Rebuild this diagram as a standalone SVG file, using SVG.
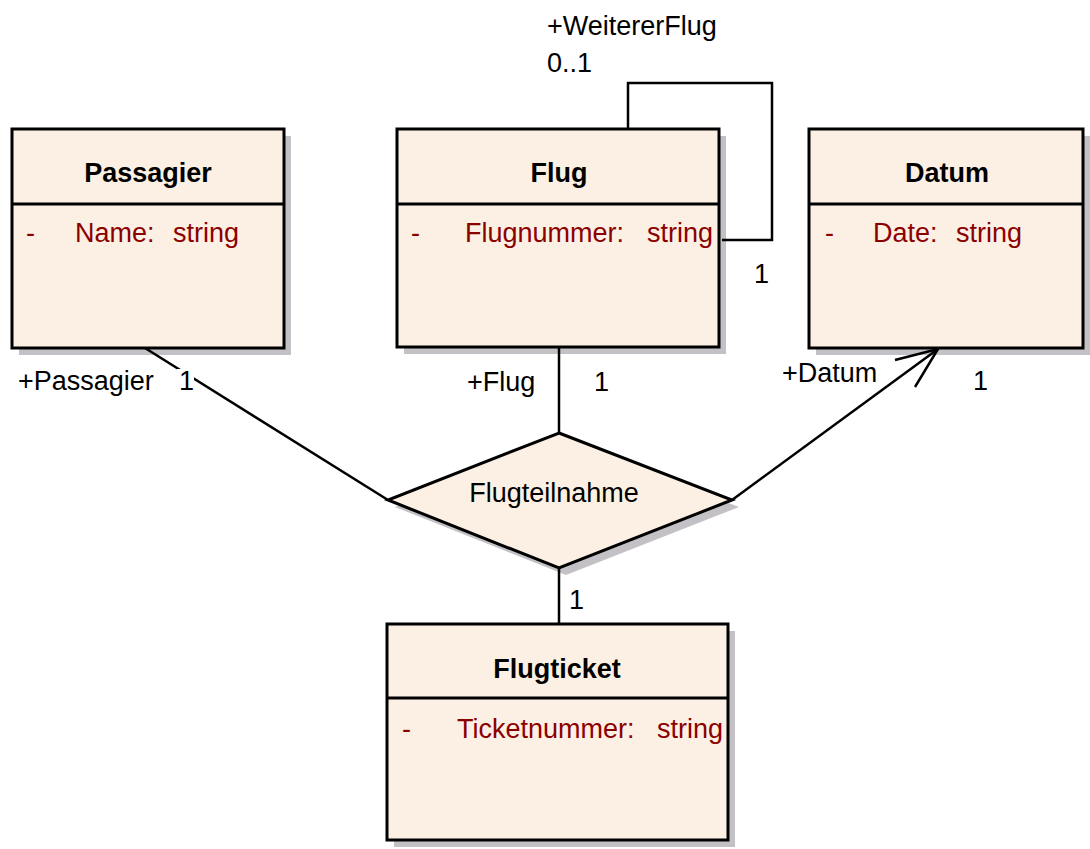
<svg xmlns="http://www.w3.org/2000/svg" width="1090" height="849" viewBox="0 0 1090 849">
<style>
  text { font-family: "Liberation Sans", Arial, sans-serif; font-size: 27px; fill: #000; }
  .title { font-weight: bold; text-anchor: middle; }
  .attr { fill: #8B0000; }
  .box { fill: #FBF0E3; stroke: #000; stroke-width: 3; }
  .shadow { fill: #C3C1C6; }
  .div { stroke: #000; stroke-width: 3; }
  .conn { fill: none; stroke: #000; stroke-width: 2.5; }
  .mid { text-anchor: middle; }
</style>
<rect x="0" y="0" width="1090" height="849" fill="#fff"/>

<g id="Passagier">
  <rect class="shadow" x="19" y="136" width="272" height="219"/>
  <rect class="box" x="12" y="129" width="272" height="219"/>
  <line class="div" x1="12" y1="204" x2="284" y2="204"/>
  <text class="title" x="148" y="182">Passagier</text>
  <text class="attr" x="26" y="242">-</text>
  <text class="attr" x="75" y="242">Name:</text>
  <text class="attr" x="173" y="242">string</text>
</g>

<g id="Flug">
  <rect class="shadow" x="404" y="136" width="322" height="218"/>
  <rect class="box" x="397" y="129" width="322" height="218"/>
  <line class="div" x1="397" y1="204" x2="719" y2="204"/>
  <text class="title" x="559" y="182">Flug</text>
  <text class="attr" x="411" y="242">-</text>
  <text class="attr" x="465" y="242">Flugnummer:</text>
  <text class="attr" x="647" y="242">string</text>
</g>

<g id="Datum">
  <rect class="shadow" x="816" y="136" width="274" height="219"/>
  <rect class="box" x="809" y="129" width="274" height="219"/>
  <line class="div" x1="809" y1="204" x2="1083" y2="204"/>
  <text class="title" x="947" y="182">Datum</text>
  <text class="attr" x="825" y="242">-</text>
  <text class="attr" x="873" y="242">Date:</text>
  <text class="attr" x="956" y="242">string</text>
</g>

<g id="Flugticket">
  <rect class="shadow" x="394" y="631" width="341" height="216"/>
  <rect class="box" x="387" y="624" width="341" height="216"/>
  <line class="div" x1="387" y1="698" x2="728" y2="698"/>
  <text class="title" x="557" y="678">Flugticket</text>
  <text class="attr" x="402" y="738">-</text>
  <text class="attr" x="457" y="738">Ticketnummer:</text>
  <text class="attr" x="657" y="738">string</text>
</g>

<g id="Flugteilnahme">
  <polygon class="shadow" points="566,440 739,507 566,575 395,507"/>
  <polygon class="box" points="559,433 732,500 559,568 388,500"/>
  <text class="mid" x="554" y="502">Flugteilnahme</text>
</g>

<g id="connectors">
  <line class="conn" x1="145" y1="348" x2="388" y2="500"/>
  <line class="conn" x1="559" y1="347" x2="559" y2="433"/>
  <line class="conn" x1="732" y1="500" x2="938" y2="349"/>
  <polyline class="conn" points="895,360 938,349 915,387"/>
  <line class="conn" x1="559" y1="568" x2="559" y2="624"/>
  <polyline class="conn" points="628,129 628,83 772,83 772,240 722,240"/>

  <rect x="177" y="369" width="17" height="24" fill="#fff"/>
  <text x="18" y="390">+Passagier</text>
  <text x="179" y="390">1</text>
  <text x="467" y="391">+Flug</text>
  <text x="594" y="391">1</text>
  <text x="782" y="382">+Datum</text>
  <text x="973" y="390">1</text>
  <text x="569" y="609">1</text>
  <text x="547" y="35">+WeitererFlug</text>
  <text x="547" y="72">0..1</text>
  <text x="754" y="283">1</text>
</g>
</svg>
